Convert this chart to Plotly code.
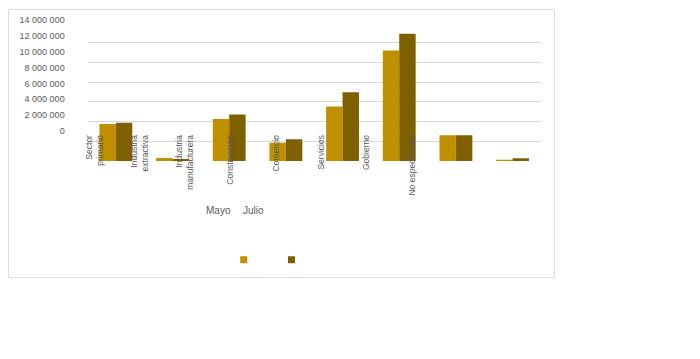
import plotly.graph_objects as go

# ---- data ----
series_names = ["Mayo", "Julio"]
groups = ["G1", "G2", "G3", "G4", "G5", "G6", "G7", "G8"]
mayo = [3740000, 310000, 4250000, 1850000, 5530000, 11190000, 2600000, 140000]
julio = [3870000, 210000, 4700000, 2210000, 6960000, 12900000, 2600000, 270000]
category_labels = ["Sector<br>primario", "Industria<br>extractiva", "Industria<br>manufacturera",
                   "Construcción", "Comercio", "Servicios", "Gobierno", "No especificado"]
y_tick_values = [0, 2000000, 4000000, 6000000, 8000000, 10000000, 12000000, 14000000]
y_tick_labels = ["0", "2 000 000", "4 000 000", "6 000 000", "8 000 000",
                 "10 000 000", "12 000 000", "14 000 000"]

colors = ["#BF9000", "#7F6000"]
W, H = 700, 359
FONT = "Liberation Sans, Arial, sans-serif"
TXT = "#595959"

def fx(px):
    return px / W

def fy(py):
    return (H - py) / H

fig = go.Figure()
for name, vals, col in zip(series_names, [mayo, julio], colors):
    fig.add_trace(go.Bar(x=groups, y=vals, name=name, marker=dict(color=col, line=dict(width=0)),
                         showlegend=False))

# carrier trace for the (misplaced) label axes
fig.add_trace(go.Scatter(x=[], y=[], xaxis="x2", yaxis="y2", showlegend=False, hoverinfo="skip"))

# legend swatches (without text, as in the reference)
for i, (name, col) in enumerate(zip(series_names, colors)):
    fig.add_trace(go.Scatter(x=[None], y=[None], mode="markers", name="",
                             marker=dict(symbol="square", size=7, color=col),
                             legend="legend" if i == 0 else "legend2", legendgroup=name))

# label axis geometry
x_lo, x_hi = 84, 540
lab_first, lab_step = 91, 45.6
n_lab = len(category_labels)
units = (x_hi - x_lo) / lab_step
r0 = -(lab_first - x_lo) / lab_step

fig.update_layout(
    width=W, height=H,
    margin=dict(l=0, r=0, t=0, b=0),
    paper_bgcolor="white", plot_bgcolor="rgba(0,0,0,0)",
    barmode="group", bargap=0.42, bargroupgap=0,
    font=dict(family=FONT, size=9, color=TXT),
    xaxis=dict(domain=[fx(x_lo), fx(x_hi)], showticklabels=False, showgrid=False,
               zeroline=False, showline=False, ticks=""),
    yaxis=dict(domain=[fy(160.5), fy(18.3)], range=[0, 14000000], showticklabels=False,
               tickvals=y_tick_values, showgrid=True, gridcolor="#D9D9D9", gridwidth=1,
               zeroline=False, showline=False, ticks=""),
    xaxis2=dict(domain=[fx(x_lo), fx(x_hi)], anchor="free", position=fy(131),
                range=[r0, r0 + units], tickmode="array", tickvals=list(range(n_lab)),
                ticktext=category_labels, tickangle=-90, showgrid=False, zeroline=False,
                showline=False, ticks="", tickfont=dict(size=8.5, color=TXT, family=FONT)),
    yaxis2=dict(domain=[fy(129.3), fy(15.7)], anchor="free", position=fx(61),
                range=[0, 14000000], tickmode="array", tickvals=y_tick_values,
                ticktext=y_tick_labels, showgrid=False, zeroline=False, showline=False,
                ticks="", tickfont=dict(size=9, color=TXT, family=FONT)),
    legend=dict(orientation="h", x=fx(221), y=fy(262), xanchor="left", yanchor="middle",
                bgcolor="rgba(0,0,0,0)", font=dict(size=9)),
    legend2=dict(orientation="h", x=fx(269), y=fy(262), xanchor="left", yanchor="middle",
                 bgcolor="rgba(0,0,0,0)", font=dict(size=9)),
    hovermode=False,
)

for name, xp in zip(series_names, [201, 238]):
    fig.add_annotation(text=name, xref="paper", yref="paper", x=fx(xp), y=fy(211),
                       xanchor="left", yanchor="middle", showarrow=False,
                       font=dict(size=10, color=TXT, family=FONT))

# outer chart border
fig.add_shape(type="rect", xref="paper", yref="paper", x0=fx(4.5), x1=fx(553.5),
              y0=fy(280.5), y1=fy(4.5), line=dict(color="#D9D9D9", width=1),
              fillcolor="rgba(0,0,0,0)", layer="below")

fig.write_html("out.html", config={"displayModeBar": False, "staticPlot": True},
               post_script="document.body.style.margin='0px';document.body.style.overflow='hidden';")
